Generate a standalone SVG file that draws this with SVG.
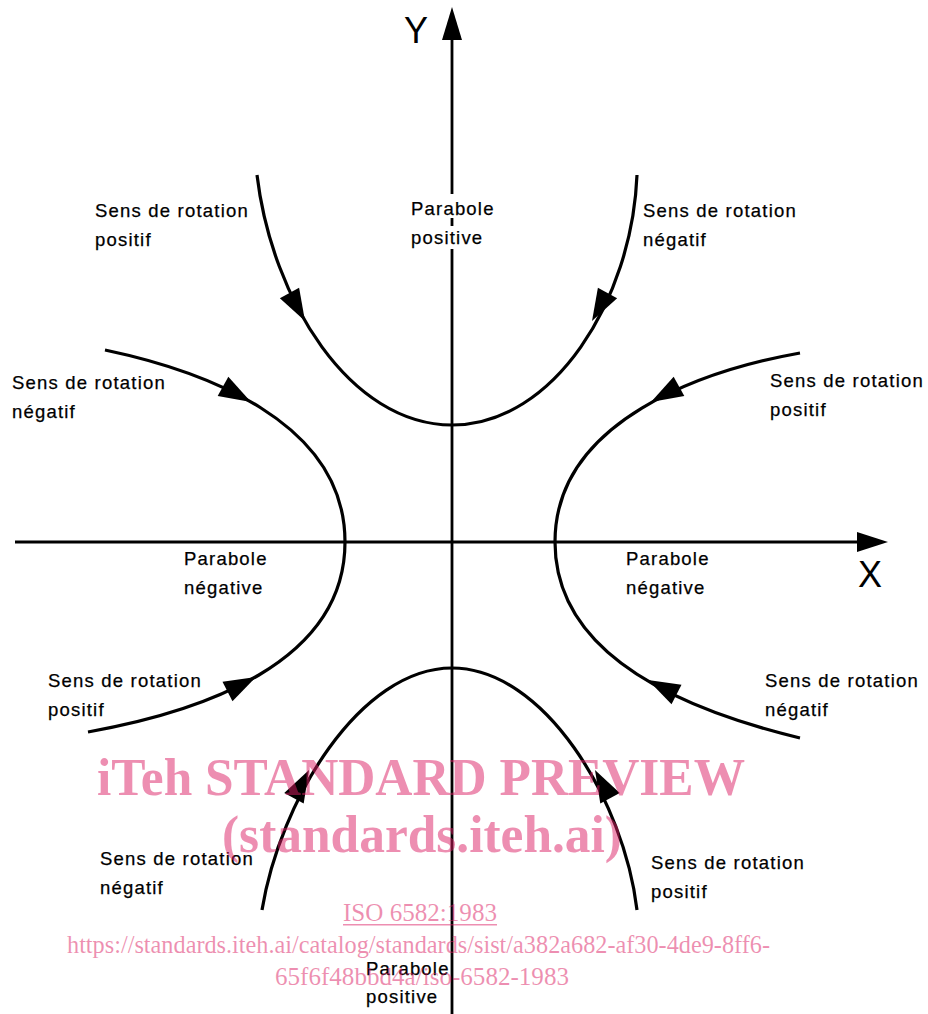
<svg xmlns="http://www.w3.org/2000/svg" xmlns:xlink="http://www.w3.org/1999/xlink" width="928" height="1014" viewBox="0 0 928 1014">
<style>
.ax{stroke:#000;stroke-width:2.8;fill:none}
.cv{stroke:#000;stroke-width:3.2;fill:none}
.lbl{font-family:"Liberation Sans",Arial,sans-serif;font-size:18.5px;letter-spacing:1.2px;fill:#000;stroke:#000;stroke-width:0.25}
.axl{font-family:"Liberation Sans",Arial,sans-serif;font-size:36px;fill:#000}
.wm{font-family:"Liberation Serif","Times New Roman",serif;fill:rgb(220,30,100);fill-opacity:0.5}
.wmb{font-weight:bold;font-size:52px}
.wms{font-size:26px}
</style>
<defs>
<path id="ah" d="M0,0 L-32,-11 L-32,11 Z" fill="#000"/>
</defs>
<g id="axes">
<path class="ax" d="M452,35 V194 M452,218 V226 M452,249 V1014"/>
<path d="M452,7 L462,40 L442,40 Z" fill="#000"/>
<path class="ax" d="M15,542 H862"/>
<path d="M888,542 L857,532 L857,552 Z" fill="#000"/>
<text class="axl" x="404" y="43">Y</text>
<text class="axl" x="858" y="587">X</text>
</g>
<g id="connectors">
<path id="c-top" class="cv" d="M257,175 C272,300 350,425 452,425 C554,425 632,300 637,175"/>
<path id="c-left" class="cv" d="M105,350 C200,370 345,420 345,542 C345,664 200,712 88,732"/>
<path id="c-right" class="cv" d="M800,353 C705,370 555,420 555,542 C555,664 705,715 800,738"/>
<path id="c-bottom" class="cv" d="M262,910 C280,800 360,668 452,668 C544,668 624,800 637,910"/>
<use xlink:href="#ah" transform="translate(305,321) rotate(61)"/>
<use xlink:href="#ah" transform="translate(592,321) rotate(119)"/>
<use xlink:href="#ah" transform="translate(251,402) rotate(29)"/>
<use xlink:href="#ah" transform="translate(651,402) rotate(151)"/>
<use xlink:href="#ah" transform="translate(256,677) rotate(-27)"/>
<use xlink:href="#ah" transform="translate(648,680) rotate(207)"/>
<use xlink:href="#ah" transform="translate(309,770) rotate(-62)"/>
<use xlink:href="#ah" transform="translate(595,770) rotate(-118)"/>
</g>
<g id="n-top-left"><text class="lbl" x="95" y="217">Sens de rotation</text><text class="lbl" x="95" y="246">positif</text></g>
<g id="n-top-center"><text class="lbl" x="411" y="215">Parabole</text><text class="lbl" x="411" y="244">positive</text></g>
<g id="n-top-right"><text class="lbl" x="643" y="217">Sens de rotation</text><text class="lbl" x="643" y="246">négatif</text></g>
<g id="n-mid-left"><text class="lbl" x="12" y="389">Sens de rotation</text><text class="lbl" x="12" y="418">négatif</text></g>
<g id="n-mid-right"><text class="lbl" x="770" y="387">Sens de rotation</text><text class="lbl" x="770" y="416">positif</text></g>
<g id="n-neg-left"><text class="lbl" x="184" y="565">Parabole</text><text class="lbl" x="184" y="594">négative</text></g>
<g id="n-neg-right"><text class="lbl" x="626" y="565">Parabole</text><text class="lbl" x="626" y="594">négative</text></g>
<g id="n-low-left"><text class="lbl" x="48" y="687">Sens de rotation</text><text class="lbl" x="48" y="716">positif</text></g>
<g id="n-low-right"><text class="lbl" x="765" y="687">Sens de rotation</text><text class="lbl" x="765" y="716">négatif</text></g>
<g id="n-bot-left"><text class="lbl" x="100" y="865">Sens de rotation</text><text class="lbl" x="100" y="894">négatif</text></g>
<g id="n-bot-right"><text class="lbl" x="651" y="869">Sens de rotation</text><text class="lbl" x="651" y="898">positif</text></g>
<g id="n-bot-center"><text class="lbl" x="366" y="975">Parabole</text><text class="lbl" x="366" y="1003">positive</text></g>
<g id="watermark">
<text class="wm wmb" x="97" y="795" textLength="648" lengthAdjust="spacingAndGlyphs">iTeh STANDARD PREVIEW</text>
<text class="wm wmb" x="222" y="852" textLength="400" lengthAdjust="spacingAndGlyphs">(standards.iteh.ai)</text>
<text class="wm wms" x="343" y="921" textLength="154" lengthAdjust="spacingAndGlyphs">ISO 6582:1983</text>
<rect x="343" y="924" width="154" height="1.5" fill="rgb(220,30,100)" fill-opacity="0.5"/>
<text class="wm wms" x="67" y="953" textLength="703" lengthAdjust="spacingAndGlyphs">https://standards.iteh.ai/catalog/standards/sist/a382a682-af30-4de9-8ff6-</text>
<text class="wm wms" x="275" y="985" textLength="294" lengthAdjust="spacingAndGlyphs">65f6f48bbd4a/iso-6582-1983</text>
</g>
</svg>
